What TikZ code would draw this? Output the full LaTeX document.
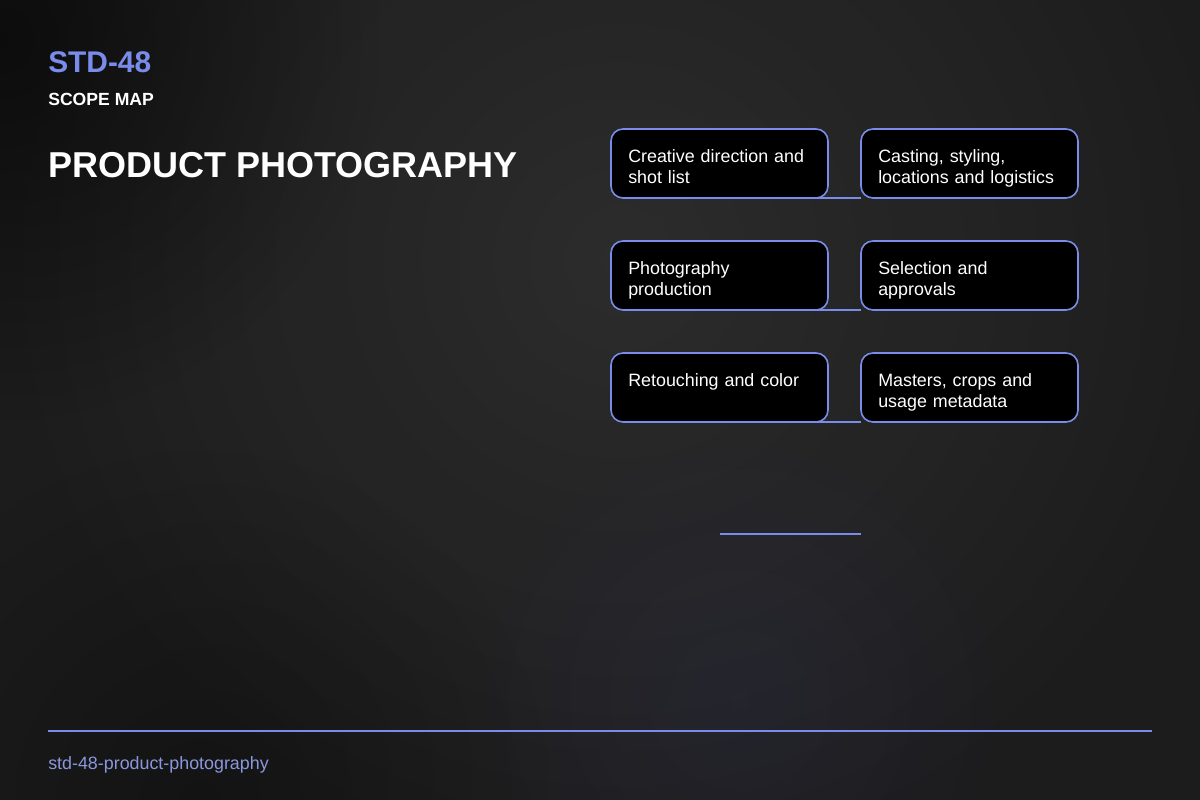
\documentclass[tikz,border=0pt]{standalone}
\usepackage{fontspec}
\setmainfont{Liberation Sans}
\usetikzlibrary{fadings}
\tikzfading[name=glowfade, inner color=transparent!0, outer color=transparent!100]
\begin{document}
\begin{tikzpicture}[x=0.75pt,y=-0.75pt]
    \definecolor{bg}{HTML}{1C1C1C}
    \definecolor{accent}{HTML}{7A8CEB}
    \definecolor{tag}{HTML}{8A97DC}
    \tikzstyle{card}=[draw=accent,line width=1.2pt,fill=black,rounded corners=9pt,anchor=north west,minimum width=162.75pt,minimum height=51.75pt,inner sep=0pt,outer sep=0pt]
    \tikzstyle{cardtext}=[anchor=base west,text width=140pt,align=left,inner sep=0pt,text=white,font=\fontsize{13.4}{16.2}\selectfont]
    \tikzstyle{link}=[draw=accent,line width=1.5pt]
    \tikzstyle{glow}=[path fading=glowfade]

    % page and background
    \useasboundingbox (0,0) rectangle (1200,800);
    \begin{scope}
      \clip (0,0) rectangle (1200,800);
      \fill[bg] (0,0) rectangle (1200,800);
      \fill[glow,white,opacity=0.07] (620,260) circle (650);
      \fill[glow,black,opacity=0.55] (0,40) circle (380);
      \fill[glow,black,opacity=0.3] (200,800) circle (350);
      \fill[glow,blue!60!white,opacity=0.06] (740,700) circle (300);
    \end{scope}

    % header
    \node[anchor=base west,inner sep=0pt,text=accent,font=\bfseries\fontsize{22.4}{27}\selectfont] (code) at (48,72) {STD-48};
    \node[anchor=base west,inner sep=0pt,text=white,font=\bfseries\fontsize{13.2}{16}\selectfont] (kind) at (48,105) {SCOPE MAP};
    \node[anchor=base west,inner sep=0pt,text=white,font=\bfseries\fontsize{27}{32}\selectfont] (title) at (48,177) {PRODUCT PHOTOGRAPHY};

    % cards
    \node[card] (c1) at (611,129) {};
    \node[card] (c2) at (861,129) {};
    \node[card] (c3) at (611,241) {};
    \node[card] (c4) at (861,241) {};
    \node[card] (c5) at (611,353) {};
    \node[card] (c6) at (861,353) {};
    \node[cardtext] (c1t) at ([xshift=12.75pt,yshift=-24.75pt]c1.north west) {Creative direction and\\shot list};
    \node[cardtext] (c2t) at ([xshift=12.75pt,yshift=-24.75pt]c2.north west) {Casting, styling,\\locations and logistics};
    \node[cardtext] (c3t) at ([xshift=12.75pt,yshift=-24.75pt]c3.north west) {Photography\\production};
    \node[cardtext] (c4t) at ([xshift=12.75pt,yshift=-24.75pt]c4.north west) {Selection and\\approvals};
    \node[cardtext] (c5t) at ([xshift=12.75pt,yshift=-24.75pt]c5.north west) {Retouching and color};
    \node[cardtext] (c6t) at ([xshift=12.75pt,yshift=-24.75pt]c6.north west) {Masters, crops and\\usage metadata};

    % links
    \coordinate (e7) at (719.5,534);
    \coordinate (e8) at (861,534);
    \draw[link] (c1.south) -- (c2.south west);
    \draw[link] (c3.south) -- (c4.south west);
    \draw[link] (c5.south) -- (c6.south west);
    \draw[link] (e7) -- (e8);

    % footer
    \coordinate (fl) at (48,731);
    \coordinate (fr) at (1152,731);
    \draw[link] (fl) -- (fr);
    \node[anchor=base west,inner sep=0pt,text=tag,font=\fontsize{13.4}{16}\selectfont] (slug) at (48,769) {std-48-product-photography};
  \end{tikzpicture}
\end{document}
